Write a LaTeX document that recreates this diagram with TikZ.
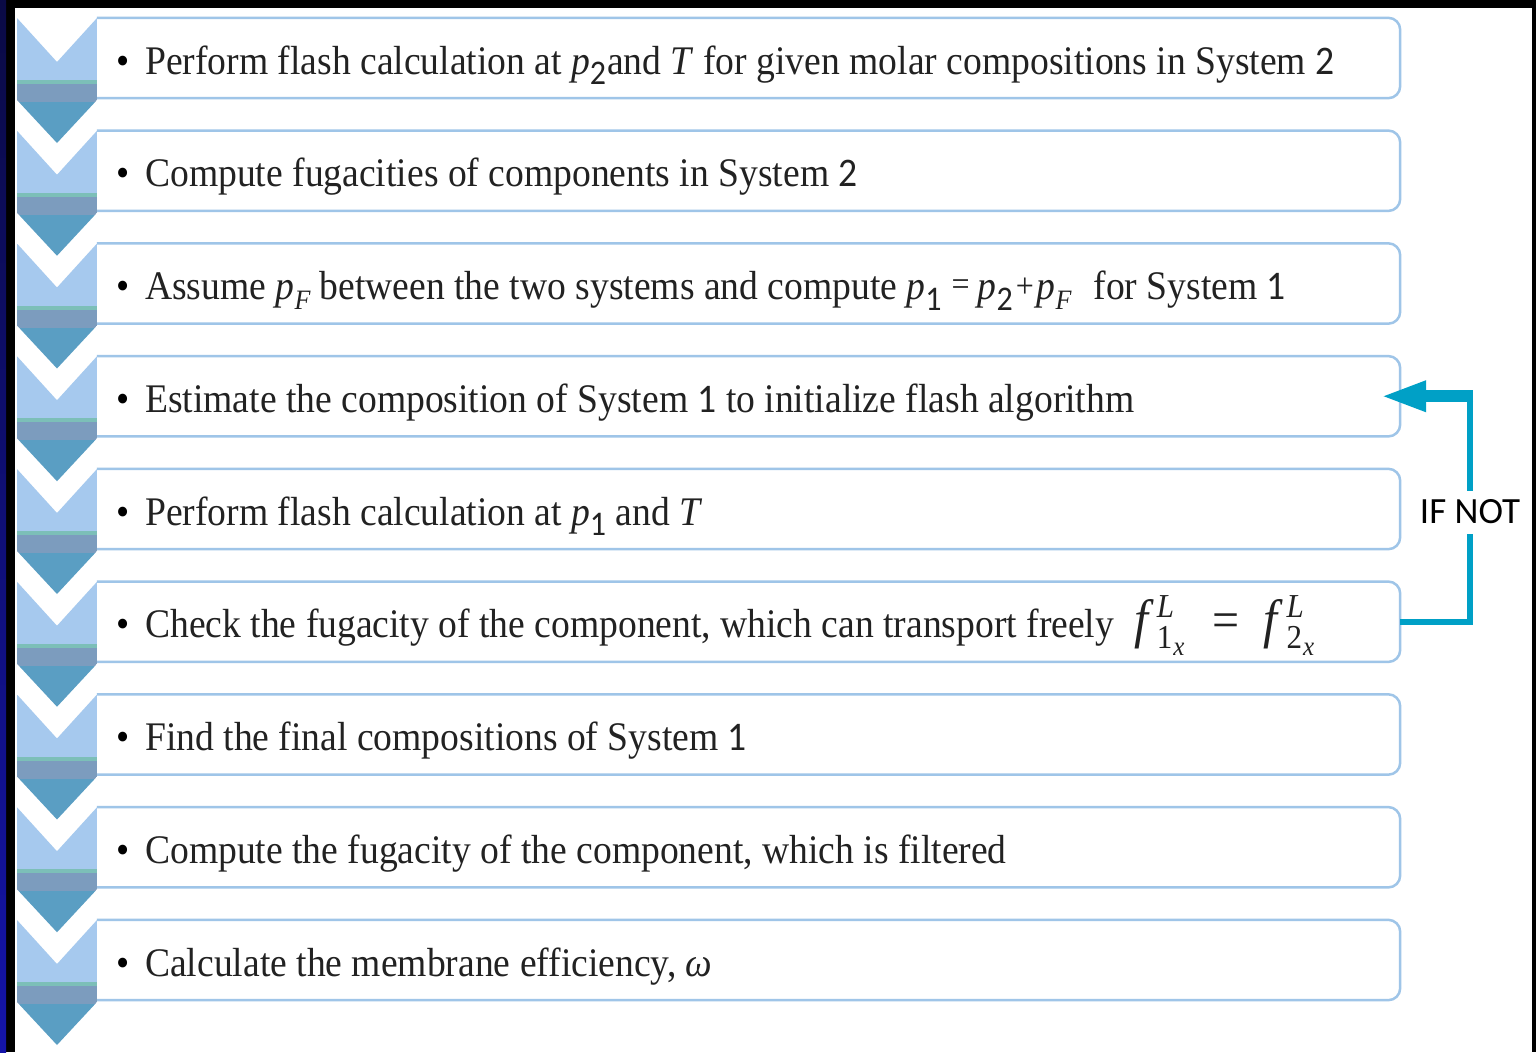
\documentclass[tikz,border=0pt]{standalone}
\usepackage{fontspec}
\setmainfont{Liberation Serif}
\newfontfamily\numfont{Carlito}
\usetikzlibrary{arrows.meta,calc}

\definecolor{chlight}{HTML}{A6C9EE}
\definecolor{chline}{HTML}{7CBFB8}
\definecolor{chgrey}{HTML}{7C9CBE}
\definecolor{chsteel}{HTML}{5A9EC3}
\definecolor{boxblue}{HTML}{9FC5E8}
\definecolor{loopblue}{HTML}{00A0C6}
\definecolor{txtgrey}{HTML}{222222}
\definecolor{navytop}{HTML}{0A0A45}
\definecolor{navybot}{HTML}{1414A8}

\newcommand\subnum[1]{\raisebox{-10pt}{\fontsize{32}{32}\selectfont\numfont #1}}
\newcommand\subF{\raisebox{-9pt}{\fontsize{26}{26}\selectfont\itshape F}}
\newcommand\smallsym[2]{\raisebox{#2}{\fontsize{32}{32}\selectfont #1}}
\newcommand\fterm[1]{{\fontsize{50}{50}\selectfont\itshape f}\hspace{9pt}\rlap{\raisebox{19pt}{\fontsize{31}{31}\selectfont\itshape L}}\raisebox{-10pt}{\fontsize{31}{31}\selectfont #1\hspace{1pt}\raisebox{-6pt}{\fontsize{25}{25}\selectfont\itshape x}}}

\tikzset{
  boxnode/.style={rectangle, minimum width=1303pt, minimum height=80pt, inner sep=0pt},
  boxline/.style={draw=boxblue, line width=2.5pt, rounded corners=12pt},
  steptxt/.style={inner sep=0pt, anchor=base west, text=txtgrey, font=\fontsize{37.6}{40}\selectfont},
  bul/.style={inner sep=0pt, anchor=base, text=black, font=\fontsize{37.6}{40}\selectfont},
  loopline/.style={draw=loopblue, line width=6pt},
  loopthick/.style={draw=loopblue, line width=12pt, -{Triangle[length=46pt,width=28pt]}, shorten >=-20pt},
  ifnot/.style={fill=white, inner xsep=3pt, inner ysep=0pt, minimum height=43pt, text=black, font=\numfont\fontsize{37}{37}\selectfont}
}

\newcommand\steprow[3]{%
  \pgfmathsetmacro\rowtop{18+112.75*#1}
  \node[boxnode] (#2) at (748.5,\rowtop+40) {};
  \draw[boxline] (#2.north west) -- (#2.north east) -- (#2.south east) -- (#2.south west);
  \begin{scope}
    \clip (17,\rowtop) -- (57,\rowtop+44) -- (97,\rowtop) -- (97,\rowtop+82) -- (57,\rowtop+125) -- (17,\rowtop+82) -- cycle;
    \fill[chlight] (17,\rowtop) rectangle (97,\rowtop+62);
    \fill[chline] (17,\rowtop+62) rectangle (97,\rowtop+66);
    \fill[chgrey] (17,\rowtop+66) rectangle (97,\rowtop+84);
    \fill[chsteel] (17,\rowtop+84) rectangle (97,\rowtop+126);
  \end{scope}
  \node[bul] (#2-bullet) at (123,\rowtop+56) {\scalebox{1}[1.08]{•}};
  \node[steptxt] (#2-text) at (145,\rowtop+56) {\scalebox{1}[1.08]{#3}};
}

\begin{document}
\begin{tikzpicture}[x=1pt,y=-1pt]
\useasboundingbox (0,0) rectangle (1536,1052);
\fill[black] (0,0) rectangle (1536,1052);
\shade[top color=navytop, bottom color=navybot] (0,0) rectangle (6,1052);
\fill[white] (15,8) rectangle (1532,1052);

\steprow{0}{b1}{Perform flash calculation at \textit{p}\subnum{2}\hspace{1pt}and \textit{T} for given molar compositions in System {\numfont 2}}
\steprow{1}{b2}{Compute fugacities of components in System {\numfont 2}}
\steprow{2}{b3}{Assume \textit{p}\subF\ between the two systems and compute \textit{p}\subnum{1}\hspace{10pt}\smallsym{=}{4pt}\hspace{8pt}\textit{p}\subnum{2}\hspace{3pt}\smallsym{+}{2pt}\hspace{3pt}\textit{p}\subF\hspace{22pt}for System {\numfont 1}}
\steprow{3}{b4}{Estimate the composition of System {\numfont 1} to initialize flash algorithm}
\steprow{4}{b5}{Perform flash calculation at \textit{p}\subnum{1} and \textit{T}}
\steprow{5}{b6}{Check the fugacity of the component, which can transport freely\hspace{20pt}\fterm{1}\hspace{28pt}{\fontsize{48}{48}\selectfont =}\hspace{24pt}\fterm{2}}
\steprow{6}{b7}{Find the final compositions of System {\numfont 1}}
\steprow{7}{b8}{Compute the fugacity of the component, which is filtered}
\steprow{8}{b9}{Calculate the membrane efficiency, \textit{ω}}

\coordinate (c1) at ($(b6.east)+(70,0)$);
\coordinate (c2) at ($(b4.east)+(70,0)$);
\draw[loopline] (b6.east) -- (c1) -- ([yshift=6pt]c2);
\draw[loopthick] ([xshift=3pt]c2) -- (b4.east);
\node[ifnot] (ifnot) at (1470,512) {IF NOT};
\end{tikzpicture}
\end{document}
